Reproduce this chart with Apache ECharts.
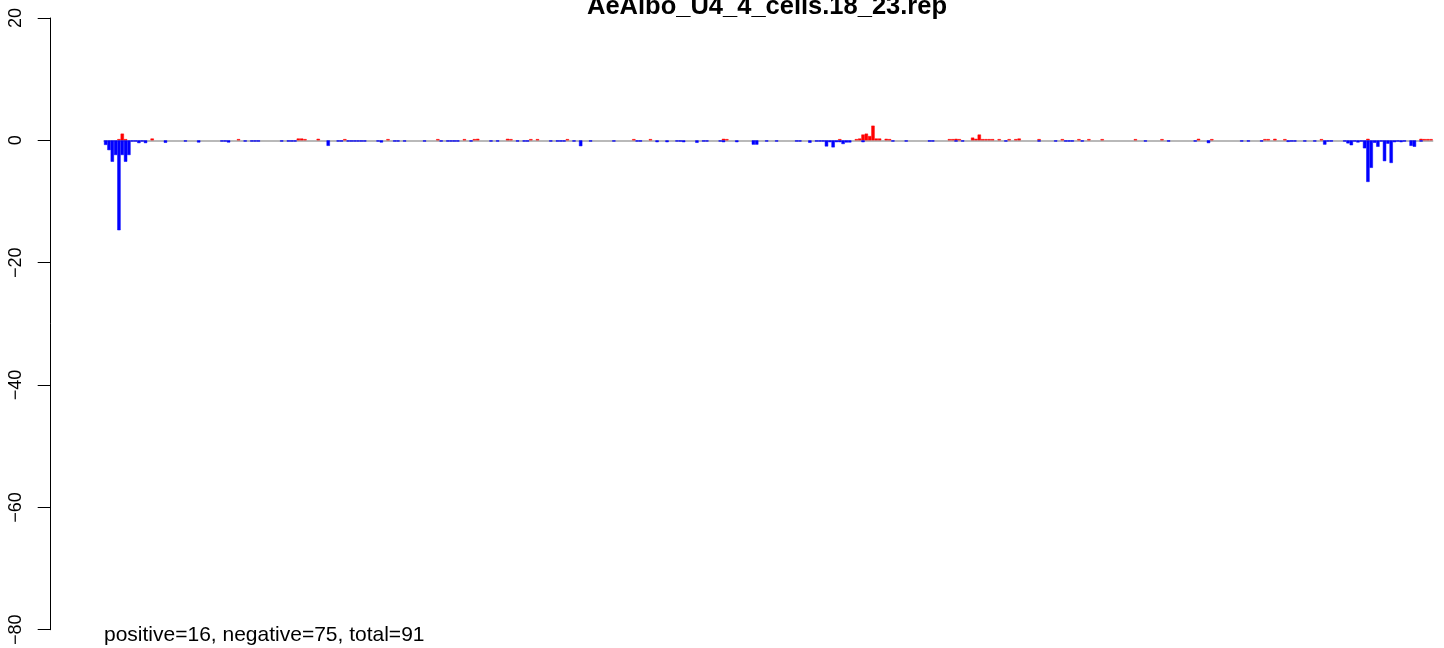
<!DOCTYPE html>
<html><head><meta charset="utf-8">
<script src="https://cdn.jsdelivr.net/npm/echarts@6/dist/echarts.min.js"></script>
<style>html,body{margin:0;padding:0;background:#fff}#c{width:1444px;height:648px}</style>
</head><body><div id="c"></div>
<script>
// ---- data ----
const positionCount = 400;
const titleText = 'AeAlbo_U4_4_cells.18_23.rep';
const noteText = 'positive=16, negative=75, total=91';
const yMin = -80, yMax = 20, yStep = 20;

const posIdx = [4,5,6,14,40,58,59,60,64,72,85,100,108,111,112,121,122,128,130,139,159,164,186,187,221,226,227,228,229,230,231,232,233,235,236,254,255,256,257,261,262,263,264,265,266,267,269,272,274,275,281,288,293,296,300,310,318,329,333,349,350,352,355,366,380,396,397,398,399];
const posVal = [0.2,1.1,0.2,0.3,0.2,0.3,0.3,0.2,0.25,0.2,0.2,0.2,0.2,0.2,0.25,0.25,0.2,0.2,0.2,0.2,0.2,0.2,0.25,0.2,0.2,0.2,0.3,0.95,1.1,0.7,2.4,0.3,0.3,0.25,0.2,0.2,0.2,0.25,0.2,0.45,0.25,0.95,0.2,0.2,0.2,0.2,0.2,0.2,0.2,0.3,0.2,0.2,0.2,0.2,0.2,0.2,0.2,0.25,0.2,0.2,0.2,0.25,0.2,0.2,0.25,0.25,0.2,0.2,0.2];

const negIdx = [0,1,2,3,4,5,6,7,8,9,10,11,12,18,24,28,35,36,37,42,44,45,46,53,55,56,57,67,70,71,73,74,75,76,77,78,82,83,87,88,90,96,101,103,104,105,106,110,116,118,124,126,127,134,136,137,138,141,143,146,153,160,161,166,169,172,173,174,178,180,181,185,186,190,195,196,199,202,208,209,212,214,215,216,217,218,219,220,221,222,223,224,228,237,241,248,249,256,258,271,281,286,289,290,291,294,313,320,328,332,342,344,348,356,357,358,361,364,367,368,369,373,374,375,376,377,378,379,380,381,382,383,384,385,386,387,388,389,390,391,393,394,396];
const negVal = [-0.75,-1.6,-3.5,-2.4,-14.7,-2.4,-3.5,-2.4,-0.2,-0.2,-0.45,-0.2,-0.45,-0.4,-0.2,-0.35,-0.2,-0.2,-0.35,-0.2,-0.2,-0.2,-0.2,-0.2,-0.2,-0.2,-0.2,-0.9,-0.2,-0.2,-0.2,-0.2,-0.2,-0.2,-0.2,-0.2,-0.2,-0.35,-0.2,-0.2,-0.2,-0.2,-0.2,-0.2,-0.2,-0.2,-0.2,-0.2,-0.2,-0.2,-0.2,-0.2,-0.2,-0.2,-0.2,-0.2,-0.2,-0.2,-0.95,-0.2,-0.2,-0.2,-0.2,-0.3,-0.3,-0.2,-0.2,-0.3,-0.4,-0.2,-0.2,-0.2,-0.3,-0.3,-0.7,-0.7,-0.2,-0.2,-0.2,-0.2,-0.4,-0.2,-0.2,-0.2,-1.0,-0.3,-1.15,-0.3,-0.3,-0.6,-0.35,-0.35,-0.3,-0.2,-0.2,-0.2,-0.2,-0.2,-0.2,-0.2,-0.2,-0.2,-0.2,-0.2,-0.2,-0.2,-0.2,-0.2,-0.2,-0.45,-0.2,-0.2,-0.2,-0.25,-0.2,-0.2,-0.2,-0.2,-0.7,-0.2,-0.2,-0.2,-0.5,-0.8,-0.2,-0.35,-0.2,-1.3,-6.8,-4.5,-0.4,-1.05,-0.2,-3.4,-0.55,-3.7,-0.3,-0.2,-0.3,-0.2,-0.9,-1.05,-0.2];

// ---- build full series from the sparse tables (empty positions are not drawn) ----
const categories = Array.from({length: positionCount}, (_, i) => String(i + 1));
const posData = new Array(positionCount).fill(null);
const negData = new Array(positionCount).fill(null);
posIdx.forEach((p, k) => { posData[p] = posVal[k]; });
negIdx.forEach((p, k) => { negData[p] = negVal[k]; });

const FONT = 'Liberation Sans, Arial, Helvetica, sans-serif';
const chart = echarts.init(document.getElementById('c'), null, {renderer: 'canvas'});
chart.setOption({
  animation: false,
  backgroundColor: '#ffffff',
  title: [
    {text: titleText, left: 582, top: -11,
     textStyle: {fontFamily: FONT, fontWeight: 'bold', fontSize: 25.5, color: '#000'}},
    {text: noteText, left: 104, top: 625, padding: [0, 0, 0, 0],
     textStyle: {fontFamily: FONT, fontWeight: 'normal', fontSize: 21, color: '#000'}}
  ],
  grid: {left: 104, right: 11.3, top: 18, bottom: 13, containLabel: false},
  xAxis: {
    type: 'category', data: categories, boundaryGap: true,
    axisLine: {show: true, onZero: true, lineStyle: {color: '#a3a3a3', width: 1.5}},
    axisTick: {show: false}, axisLabel: {show: false}, splitLine: {show: false}
  },
  yAxis: {
    type: 'value', min: yMin, max: yMax, interval: yStep, offset: 53.3,
    axisLine: {show: true, lineStyle: {color: '#000', width: 1}},
    axisTick: {show: true, length: 13, lineStyle: {color: '#000', width: 1}},
    axisLabel: {show: true, rotate: 90, margin: 26, fontFamily: FONT, fontSize: 18, color: '#000',
                formatter: v => String(v).replace('-', '\u2212')},
    splitLine: {show: false}
  },
  series: [
    {type: 'bar', name: 'positive', data: posData, barWidth: '100%', barGap: '-100%', barCategoryGap: '0%',
     itemStyle: {color: '#ff0000', borderColor: '#ff0000', borderWidth: 0.5}, z: 3},
    {type: 'bar', name: 'negative', data: negData, barWidth: '100%', barGap: '-100%', barCategoryGap: '0%',
     itemStyle: {color: '#0000ff', borderColor: '#0000ff', borderWidth: 0.5}, z: 3}
  ]
});
</script></body></html>
